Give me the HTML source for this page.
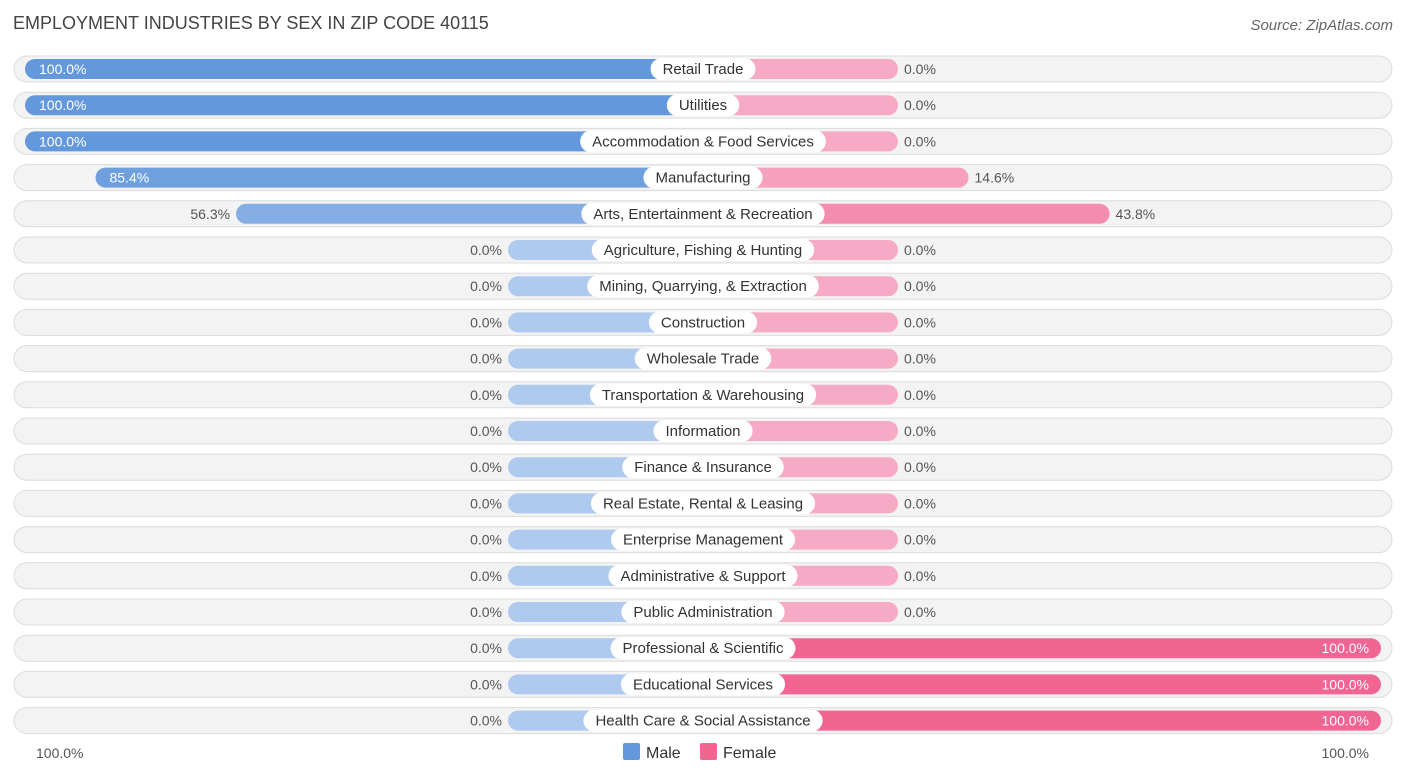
<!DOCTYPE html>
<html><head><meta charset="utf-8"><style>
body{margin:0;background:#fff;font-family:"Liberation Sans",Arial,sans-serif;}
svg text{font-family:"Liberation Sans",Arial,sans-serif;}
</style></head><body>
<svg id="c" width="1406" height="776">
<text x="13" y="29" font-size="18" fill="#444">EMPLOYMENT INDUSTRIES BY SEX IN ZIP CODE 40115</text>
<text x="1393" y="30" font-size="15" fill="#666" font-style="italic" text-anchor="end">Source: ZipAtlas.com</text>
<g id="rows"></g>
<text x="36" y="758" font-size="14" fill="#555">100.0%</text>
<text x="1369" y="758" font-size="14" fill="#555" text-anchor="end">100.0%</text>
<g>
<rect x="623" y="743" width="17" height="17" rx="2" fill="#6399dc"/>
<text x="646" y="758" font-size="16" fill="#333">Male</text>
<rect x="700" y="743" width="17" height="17" rx="2" fill="#f06592"/>
<text x="723" y="758" font-size="16" fill="#333">Female</text>
</g>
</svg>
<script>
const categories=["Retail Trade","Utilities","Accommodation & Food Services","Manufacturing","Arts, Entertainment & Recreation","Agriculture, Fishing & Hunting","Mining, Quarrying, & Extraction","Construction","Wholesale Trade","Transportation & Warehousing","Information","Finance & Insurance","Real Estate, Rental & Leasing","Enterprise Management","Administrative & Support","Public Administration","Professional & Scientific","Educational Services","Health Care & Social Assistance"];
const maleValues=[100,100,100,85.4,56.3,0,0,0,0,0,0,0,0,0,0,0,0,0,0];
const femaleValues=[0,0,0,14.6,43.8,0,0,0,0,0,0,0,0,0,0,0,0,100,100];
femaleValues[16]=100;
const CX=703, STUB=195, SCALE=4.83, Y0=69, DY=36.2;
function w(v){return STUB+SCALE*v;}
function mix(a,b,t){return 'rgb('+a.map((x,i)=>Math.round(x+(b[i]-x)*t)).join(',')+')';}
const mLo=[174,202,238], mHi=[99,153,220], fLo=[247,170,197], fHi=[240,101,146];
const NS="http://www.w3.org/2000/svg";
const g=document.getElementById('rows');
function el(tag,attrs,parent){const e=document.createElementNS(NS,tag);for(const k in attrs)e.setAttribute(k,attrs[k]);parent.appendChild(e);return e;}
const meas=el('text',{'font-size':15,x:-1000,y:-1000},g);
categories.forEach((cat,i)=>{
  const cy=Y0+i*DY;
  const row=el('g',{},g);
  
  
  const bg=el('rect',{x:14,y:cy-13,width:1378,height:26,rx:13,fill:'#f3f3f3',stroke:'#dcdcdc','stroke-width':1},row);
  
  
  const mv=maleValues[i], fv=femaleValues[i];
  const mw=w(mv), fw=w(fv);
  const mb=el('rect',{x:CX-mw,y:cy-10,width:mw,height:20,rx:10,fill:mix(mLo,mHi,mv/100)},row);
  
  
  const fb=el('rect',{x:CX,y:cy-10,width:fw,height:20,rx:10,fill:mix(fLo,fHi,fv/100)},row);
  
  
  meas.textContent=cat;
  const tw=meas.getComputedTextLength();
  const pw=tw+24;
  const pill=el('rect',{x:CX-pw/2,y:cy-11,width:pw,height:22,rx:11,fill:'#fff'},row);
  
  
  const lt=el('text',{x:CX,y:cy+5,'font-size':15,fill:'#333','text-anchor':'middle'},row);
  lt.textContent=cat;
  
  
  const ml=mv>=70?el('text',{x:CX-mw+14,y:cy+5,'font-size':14,fill:'#fff'},row):el('text',{x:CX-mw-6,y:cy+5,'font-size':14,fill:'#555','text-anchor':'end'},row);
  ml.textContent=mv.toFixed(1)+'%';
  
  
  const fl=fv>=70?el('text',{x:CX+fw-12,y:cy+5,'font-size':14,fill:'#fff','text-anchor':'end'},row):el('text',{x:CX+fw+6,y:cy+5,'font-size':14,fill:'#555'},row);
  fl.textContent=fv.toFixed(1)+'%';
  
  
});
meas.remove();
</script>
</body></html>
